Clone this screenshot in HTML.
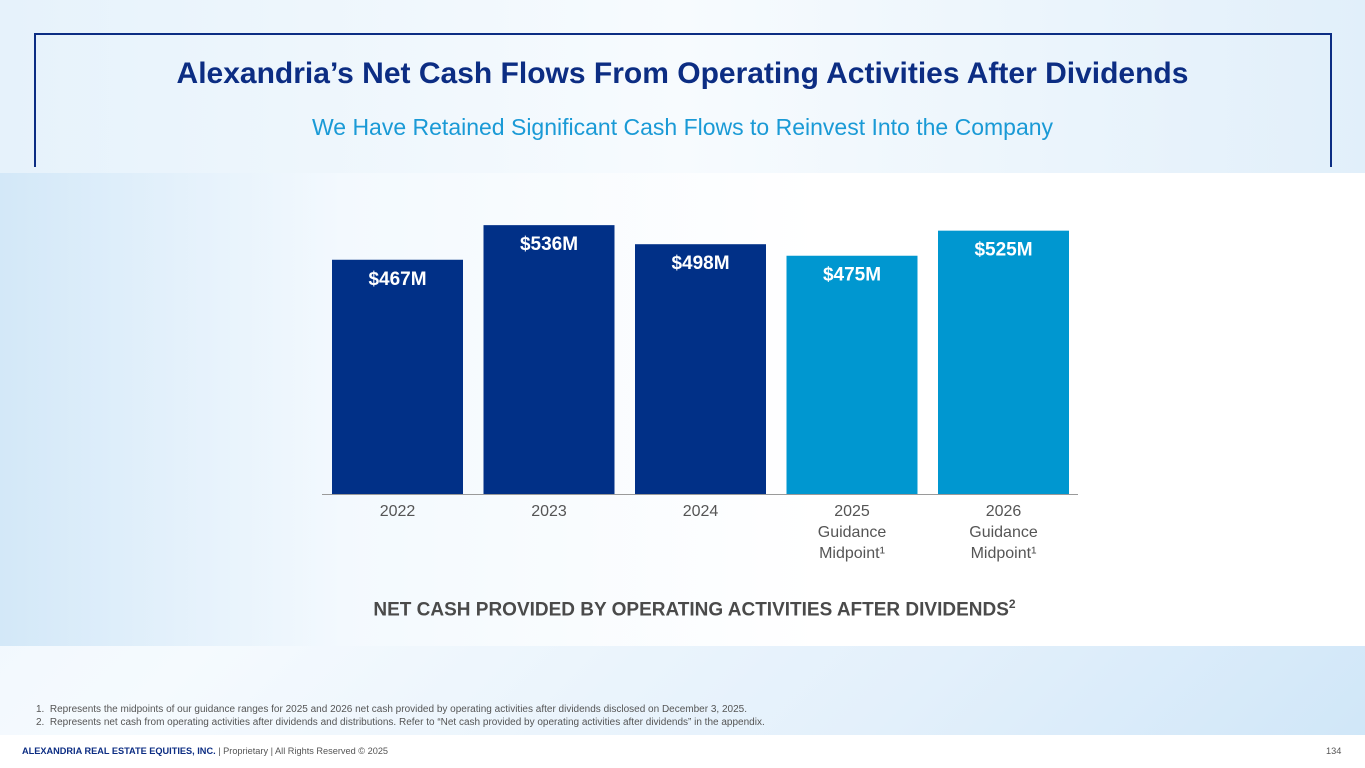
<!DOCTYPE html>
<html><head><meta charset="utf-8"><style>
body{margin:0;width:1365px;height:768px;overflow:hidden;font-family:"Liberation Sans",sans-serif;position:relative;background:linear-gradient(135deg,#eaf4fc 0%,#f5fafe 40%,#e3f0fb 75%,#cfe6f8 100%);}
.abs{position:absolute}
</style></head><body>
<div class="abs" style="left:0;top:0;width:1365px;height:173px;background:linear-gradient(90deg,#e6f2fb,#f7fbfe 50%,#e1effa)"></div>
<div class="abs" style="left:34px;top:33px;width:1294px;height:132px;border:2px solid #0c2d83;border-bottom:none"></div>
<div class="abs" style="left:0;width:1365px;top:57px;text-align:center;font-size:30px;font-weight:bold;color:#0c2d83">Alexandria’s Net Cash Flows From Operating Activities After Dividends</div>
<div class="abs" style="left:0;width:1365px;top:114px;text-align:center;font-size:23px;color:#1a9ad6">We Have Retained Significant Cash Flows to Reinvest Into the Company</div>
<div class="abs" style="left:0;top:173px;width:1365px;height:473px;background:linear-gradient(90deg,#d3e8f8 0%,#f3f9fe 25%,#ffffff 60%,#ffffff 100%)"></div>
<svg id="chart" class="abs" style="left:0;top:0" width="1365" height="768"></svg>
<div class="abs" style="left:0;width:1365px;top:597px;text-align:center;font-size:19px;font-weight:bold;color:#4a4a4a;padding-left:12px">NET CASH PROVIDED BY OPERATING ACTIVITIES AFTER DIVIDENDS<sup style="font-size:12px">2</sup></div>
<div class="abs" style="left:36px;top:703px;font-size:10px;color:#555;line-height:13px">1.&nbsp; Represents the midpoints of our guidance ranges for 2025 and 2026 net cash provided by operating activities after dividends disclosed on December 3, 2025.<br>2.&nbsp; Represents net cash from operating activities after dividends and distributions. Refer to “Net cash provided by operating activities after dividends” in the appendix.</div>
<div class="abs" style="left:0;top:735px;width:1365px;height:33px;background:#fff"></div>
<div class="abs" style="left:22px;top:746px;font-size:9.2px;color:#555"><b style="color:#0c2d83">ALEXANDRIA REAL ESTATE EQUITIES, INC.</b> | Proprietary | All Rights Reserved © 2025</div>
<div class="abs" style="left:1326px;top:746px;font-size:9.2px;color:#555">134</div>
<script>
const categories=[["2022"],["2023"],["2024"],["2025","Guidance","Midpoint¹"],["2026","Guidance","Midpoint¹"]];
const values=[467,536,498,475,525];
const isGuidance=[false,false,false,true,true];
const svg=document.getElementById('chart');
const NS='http://www.w3.org/2000/svg';
const baseY=494,scale=0.5016,x0=332,step=151.5,bw=131;
function yPos(v){return baseY-v*scale;}
function xPos(i){return x0+i*step;}
const axis=document.createElementNS(NS,'line');
axis.setAttribute('x1',322);axis.setAttribute('x2',1078);axis.setAttribute('y1',baseY+0.5);axis.setAttribute('y2',baseY+0.5);
axis.setAttribute('stroke','#9a9a9a');axis.setAttribute('stroke-width','1');


svg.appendChild(axis);
values.forEach((v,i)=>{
  const r=document.createElementNS(NS,'rect');
  r.setAttribute('x',xPos(i));r.setAttribute('y',yPos(v));r.setAttribute('width',bw);r.setAttribute('height',baseY-yPos(v));
  r.setAttribute('fill',isGuidance[i]?'#0097d0':'#013087');
  
  
  svg.appendChild(r);
  const t=document.createElementNS(NS,'text');
  t.setAttribute('x',xPos(i)+bw/2);t.setAttribute('y',yPos(v)+25);t.setAttribute('text-anchor','middle');
  t.setAttribute('fill','#fff');t.setAttribute('font-size','19');t.setAttribute('font-weight','bold');
  t.setAttribute('font-family','Liberation Sans, sans-serif');
  t.textContent='$'+v+'M';
  
  
  svg.appendChild(t);
  categories[i].forEach((line,j)=>{
    const c=document.createElementNS(NS,'text');
    c.setAttribute('x',xPos(i)+bw/2);c.setAttribute('y',baseY+22+j*21);c.setAttribute('text-anchor','middle');
    c.setAttribute('fill','#555');c.setAttribute('font-size','16');
    c.setAttribute('font-family','Liberation Sans, sans-serif');
    c.textContent=line;
    
    
    svg.appendChild(c);
  });
});
</script>
</body></html>
